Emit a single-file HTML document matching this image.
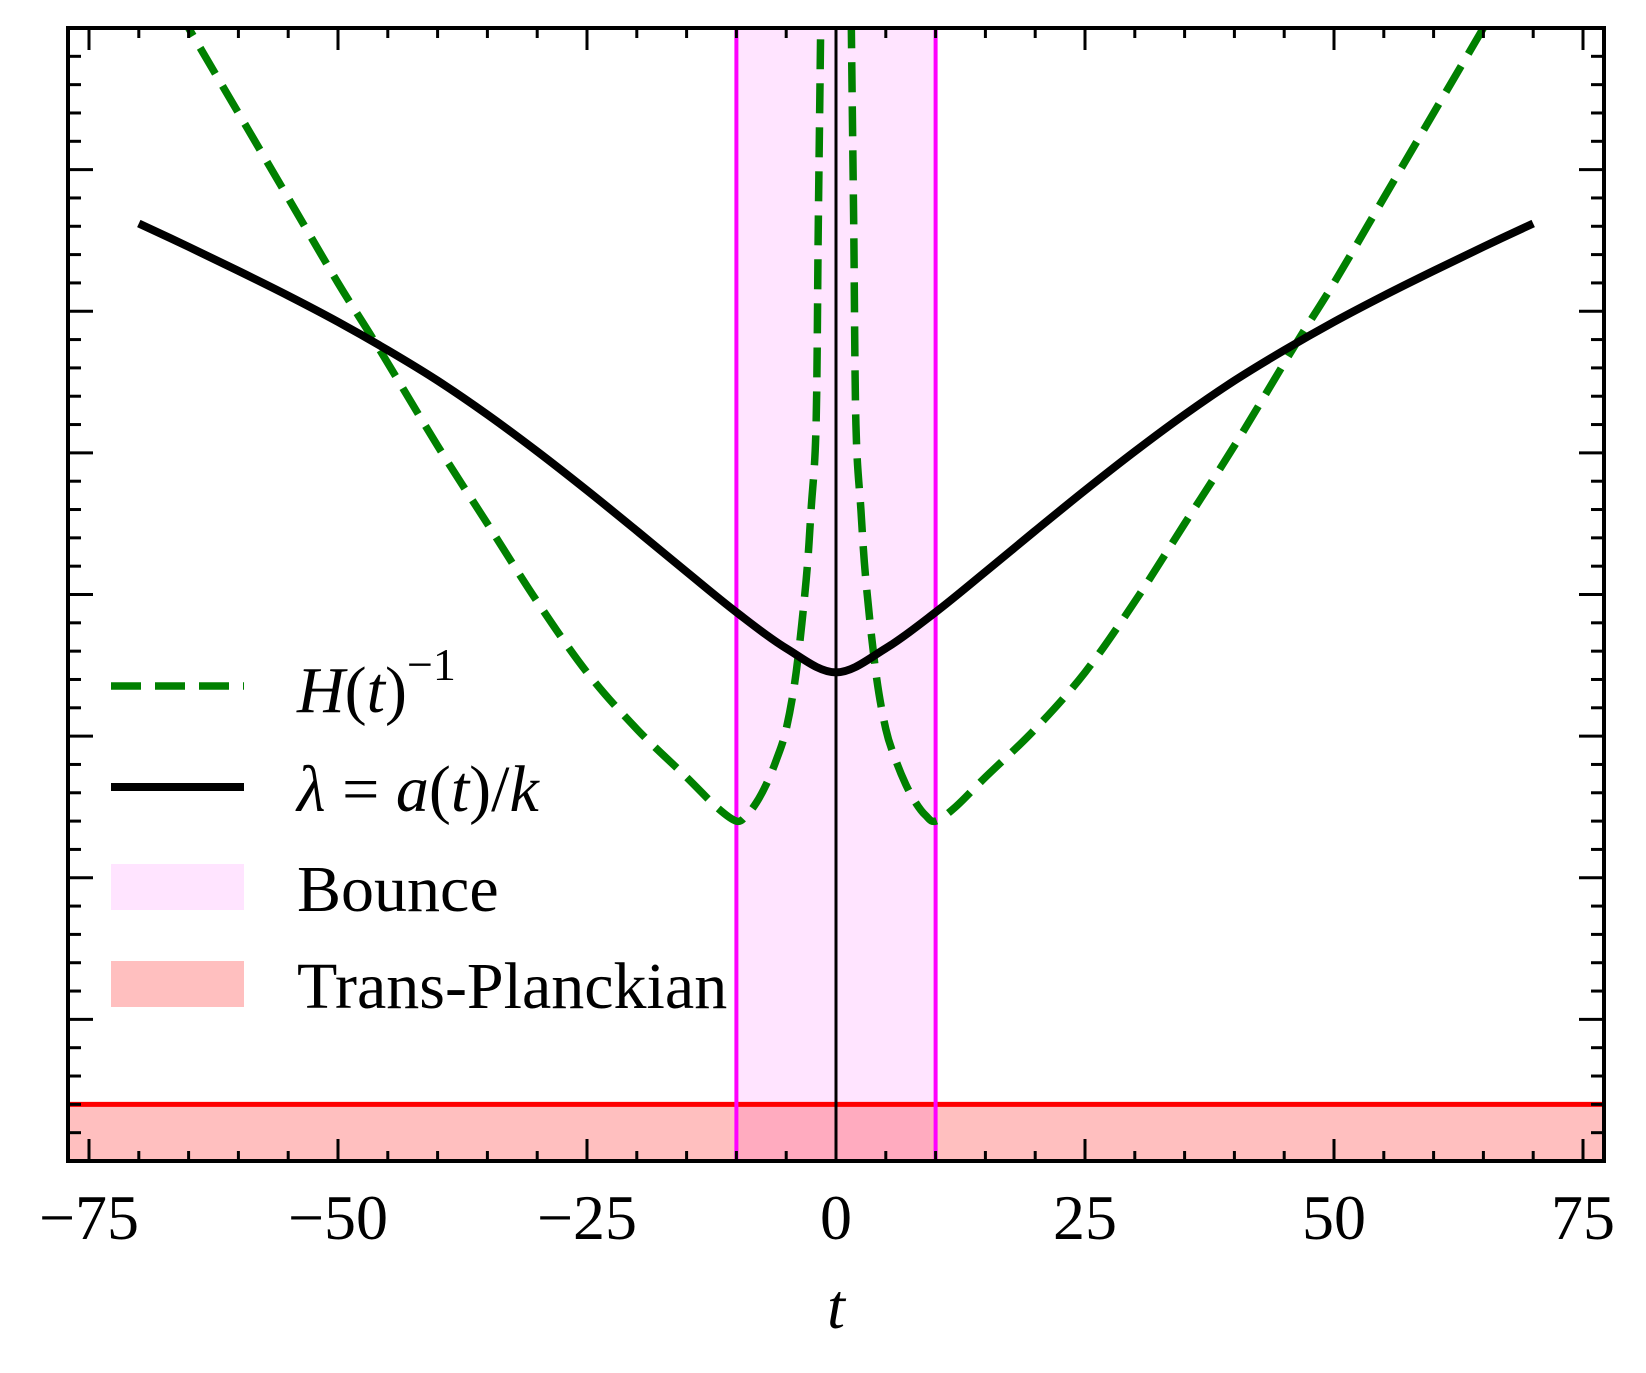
<!DOCTYPE html>
<html><head><meta charset="utf-8">
<style>
html,body{margin:0;padding:0;background:#fff;}
svg{display:block;}
text{font-family:"Liberation Serif",serif;fill:#000;}
</style></head>
<body>
<svg id="chart" width="1646" height="1373" viewBox="0 0 1646 1373" xmlns="http://www.w3.org/2000/svg">
<defs><clipPath id="plotclip"><rect x="68" y="28" width="1536" height="1133"/></clipPath></defs>
<g id="plot" clip-path="url(#plotclip)"></g>
<g id="axes"></g>
<g id="legend">
  <line x1="111" y1="686" x2="244" y2="686" stroke="#008000" stroke-width="7.5" stroke-dasharray="30,14"/>
  <text x="297" y="712" font-size="66" font-style="italic">H<tspan font-style="normal">(</tspan>t<tspan font-style="normal">)</tspan><tspan font-style="normal" font-size="46" dy="-32">−1</tspan></text>
  <line x1="111" y1="787" x2="244" y2="787" stroke="#000" stroke-width="8"/>
  <text x="297" y="811" font-size="66"><tspan font-style="italic">λ</tspan> = <tspan font-style="italic">a</tspan>(<tspan font-style="italic">t</tspan>)/<tspan font-style="italic">k</tspan></text>
  <rect x="111" y="864" width="133" height="46" fill="#ffe4ff"/>
  <text x="297" y="911" font-size="66">Bounce</text>
  <rect x="111" y="961" width="133" height="46" fill="#ffbfbf"/>
  <text x="297" y="1008" font-size="66">Trans-Planckian</text>
</g>
<text x="836" y="1328" font-size="64" font-style="italic" text-anchor="middle">t</text>
</svg>
<script>
// ---- data ----
const xTicks = [-75, -50, -25, 0, 25, 50, 75];
const xTickLabels = ["−75", "−50", "−25", "0", "25", "50", "75"];
const lambdaT = [-70, -65, -60, -55, -50, -45, -40, -35, -30, -25, -20, -15, -10, -5, 0, 5, 10, 15, 20, 25, 30, 35, 40, 45, 50, 55, 60, 65, 70];
const lambdaV = [6.62, 6.455, 6.285, 6.11, 5.925, 5.725, 5.51, 5.27, 5.01, 4.735, 4.45, 4.16, 3.875, 3.62, 3.45, 3.62, 3.875, 4.16, 4.45, 4.735, 5.01, 5.27, 5.51, 5.725, 5.925, 6.11, 6.285, 6.455, 6.62];
const hLeftT = [-66, -65, -60, -55, -50, -46, -40, -35, -30, -25, -20, -15, -12, -10, -9, -8, -7, -6, -5, -4, -3, -2.5, -2, -1.78, -1.54, -1.4];
const hLeftV = [8.13, 8.0, 7.4, 6.8, 6.2, 5.75, 5.05, 4.5, 3.95, 3.45, 3.05, 2.71, 2.5, 2.40, 2.44, 2.53, 2.66, 2.83, 3.05, 3.45, 4.1, 4.6, 5.2, 6.6, 8.0, 9.0];
const hRightT = [1.4, 1.54, 1.78, 2, 2.5, 3, 4, 5, 6, 7, 8, 9, 10, 12, 15, 20, 25, 30, 35, 40, 46, 50, 55, 60, 65, 66];
const hRightV = [9.0, 8.0, 6.6, 5.2, 4.6, 4.1, 3.45, 3.05, 2.83, 2.66, 2.53, 2.44, 2.40, 2.5, 2.71, 3.05, 3.45, 3.95, 4.5, 5.05, 5.75, 6.2, 6.8, 7.4, 8.0, 8.13];
const bounceRange = [-10, 10];
const planckLevel = [0.4];

// ---- scales ----
const X0 = 68, X1 = 1604, Y0 = 1161, Y1 = 28;
function sx(t){ return 836 + t * 9.96; }
function sy(v){ return 1161 - v * 141.625; }
const NS = "http://www.w3.org/2000/svg";
function mk(tag, attrs, parent){
  const e = document.createElementNS(NS, tag);
  for (const k in attrs) e.setAttribute(k, attrs[k]);
  parent.appendChild(e);
  return e;
}
function smoothPath(ts, vs){
  const p = ts.map((t,i)=>[sx(t), sy(vs[i])]);
  let d = "M" + p[0][0].toFixed(2) + "," + p[0][1].toFixed(2);
  for (let i=0;i<p.length-1;i++){
    const p0 = p[Math.max(0,i-1)], p1 = p[i], p2 = p[i+1], p3 = p[Math.min(p.length-1,i+2)];
    const c1 = [p1[0]+(p2[0]-p0[0])/6, p1[1]+(p2[1]-p0[1])/6];
    const c2 = [p2[0]-(p3[0]-p1[0])/6, p2[1]-(p3[1]-p1[1])/6];
    d += " C"+c1[0].toFixed(2)+","+c1[1].toFixed(2)+" "+c2[0].toFixed(2)+","+c2[1].toFixed(2)+" "+p2[0].toFixed(2)+","+p2[1].toFixed(2);
  }
  return d;
}
const plot = document.getElementById("plot");
const axes = document.getElementById("axes");

const bb = mk("rect", {x: sx(bounceRange[0]), y: Y1, width: sx(bounceRange[1]) - sx(bounceRange[0]), height: Y0 - Y1, fill: "#ffe4ff"}, plot);


const tp = mk("rect", {x: X0, y: sy(planckLevel[0]), width: X1 - X0, height: Y0 - sy(planckLevel[0]), fill: "rgba(255,0,0,0.25)"}, plot);


const tl = mk("line", {x1: X0, x2: X1, y1: sy(planckLevel[0]), y2: sy(planckLevel[0]), stroke: "#ff0000", "stroke-width": 5}, plot);


bounceRange.forEach((t, i) => {
  const l = mk("line", {x1: sx(t), x2: sx(t), y1: Y1, y2: Y0, stroke: "#ff00ff", "stroke-width": 4}, plot);
  
  
});
const zl = mk("line", {x1: sx(0), x2: sx(0), y1: Y1, y2: Y0, stroke: "#000", "stroke-width": 3}, plot);



[[hLeftT, hLeftV, 'hinv-curve-left'], [hRightT, hRightV, 'hinv-curve-right']].forEach(s => {
  const p = mk("path", {d: smoothPath(s[0], s[1]), fill: "none", stroke: "#008000", "stroke-width": 7.5, "stroke-dasharray": "30,14"}, plot);
  
  
});
const lp = mk("path", {d: smoothPath(lambdaT, lambdaV), fill: "none", stroke: "#000", "stroke-width": 8}, plot);



for (let t = -75; t <= 75; t += 5) {
  const major = (t % 25 === 0);
  const len = major ? 22 : 10;
  const b = mk("line", {x1: sx(t), x2: sx(t), y1: Y0, y2: Y0 - len, stroke: "#000", "stroke-width": 3}, axes);
  
  
  const tt = mk("line", {x1: sx(t), x2: sx(t), y1: Y1, y2: Y1 + len, stroke: "#000", "stroke-width": 3}, axes);
  
  
}
for (let k = 0; k <= 40; k++) {
  const v = k * 0.2;
  const major = (k % 5 === 0);
  const len = major ? 25 : 13;
  const l = mk("line", {x1: X0, x2: X0 + len, y1: sy(v), y2: sy(v), stroke: "#000", "stroke-width": 3}, axes);
  
  
  const r = mk("line", {x1: X1, x2: X1 - len, y1: sy(v), y2: sy(v), stroke: "#000", "stroke-width": 3}, axes);
  
  
}
const frame = mk("rect", {x: X0, y: Y1, width: X1 - X0, height: Y0 - Y1, fill: "none", stroke: "#000", "stroke-width": 4}, axes);


xTicks.forEach((t, i) => {
  const tx = mk("text", {x: sx(t), y: 1239, "font-size": 64, "text-anchor": "middle"}, axes);
  
  
  tx.textContent = xTickLabels[i];
});
</script>
</body></html>
